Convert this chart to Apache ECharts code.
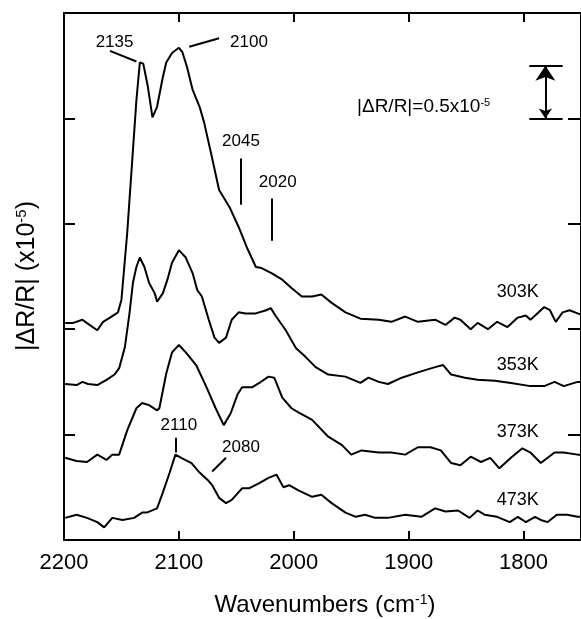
<!DOCTYPE html>
<html>
<head>
<meta charset="utf-8">
<script src="https://cdn.jsdelivr.net/npm/echarts@6/dist/echarts.min.js"></script>
<style>
  html, body { margin: 0; padding: 0; background: #fff; }
  #main { width: 581px; height: 619px; }
</style>
</head>
<body>
<div id="main"></div>
<script>
// traces: [wavenumber (cm-1), offset |dR/R| (x10^-5)]
const k303 = [
  [2199, 2.06], [2192, 2.06], [2184, 2.09], [2179, 2.05], [2171, 1.99], [2166, 2.07],
  [2160, 2.11], [2153, 2.16], [2150, 2.28], [2145, 2.91], [2141, 3.54], [2137, 4.17],
  [2134, 4.53], [2131, 4.52], [2127, 4.30], [2123, 4.01], [2119, 4.11], [2114, 4.39],
  [2111, 4.53], [2106, 4.62], [2100, 4.67], [2097, 4.63], [2093, 4.49], [2088, 4.27],
  [2082, 4.11], [2078, 3.96], [2072, 3.67], [2065, 3.32], [2056, 3.16], [2048, 2.97],
  [2041, 2.78], [2033, 2.59], [2028, 2.58], [2019, 2.53], [2010, 2.47], [2002, 2.39],
  [1993, 2.31], [1984, 2.31], [1976, 2.33], [1967, 2.25], [1955, 2.16], [1942, 2.10],
  [1926, 2.09], [1915, 2.07], [1903, 2.12], [1892, 2.07], [1877, 2.09], [1868, 2.04],
  [1860, 2.11], [1855, 2.09], [1846, 2.00], [1840, 2.06], [1831, 2.00], [1823, 2.07],
  [1814, 2.02], [1805, 2.11], [1798, 2.13], [1794, 2.09], [1788, 2.15], [1782, 2.21],
  [1777, 2.18], [1772, 2.07], [1766, 2.16], [1760, 2.18], [1753, 2.15], [1750, 2.14]
];
const k353 = [
  [2199, 1.48], [2189, 1.47], [2184, 1.50], [2179, 1.48], [2171, 1.47], [2163, 1.52],
  [2156, 1.57], [2152, 1.63], [2147, 1.83], [2143, 2.15], [2140, 2.44], [2137, 2.59],
  [2134, 2.68], [2130, 2.59], [2126, 2.44], [2121, 2.34], [2119, 2.26], [2114, 2.34],
  [2110, 2.47], [2106, 2.63], [2100, 2.75], [2094, 2.68], [2088, 2.53], [2084, 2.37],
  [2080, 2.31], [2074, 2.09], [2069, 1.92], [2065, 1.87], [2059, 1.92], [2054, 2.09],
  [2048, 2.16], [2042, 2.15], [2033, 2.15], [2024, 2.18], [2020, 2.20], [2016, 2.13],
  [2007, 1.99], [1998, 1.82], [1990, 1.74], [1981, 1.64], [1970, 1.57], [1955, 1.55],
  [1942, 1.49], [1935, 1.54], [1926, 1.50], [1918, 1.48], [1906, 1.54], [1892, 1.59],
  [1877, 1.64], [1870, 1.66], [1863, 1.57], [1851, 1.54], [1840, 1.52], [1825, 1.51],
  [1811, 1.49], [1794, 1.46], [1782, 1.46], [1773, 1.50], [1765, 1.46], [1753, 1.50],
  [1750, 1.50]
];
const k373 = [
  [2199, 0.78], [2189, 0.75], [2180, 0.74], [2171, 0.81], [2163, 0.76], [2158, 0.81],
  [2152, 0.81], [2145, 1.04], [2137, 1.25], [2132, 1.30], [2126, 1.28], [2119, 1.23],
  [2117, 1.25], [2111, 1.58], [2106, 1.78], [2100, 1.85], [2094, 1.78], [2085, 1.66],
  [2076, 1.45], [2068, 1.25], [2061, 1.09], [2055, 1.20], [2049, 1.38], [2045, 1.45],
  [2036, 1.45], [2030, 1.49], [2022, 1.55], [2017, 1.54], [2010, 1.35], [2002, 1.25],
  [1996, 1.21], [1984, 1.14], [1970, 0.98], [1958, 0.90], [1950, 0.81], [1941, 0.85],
  [1926, 0.83], [1915, 0.83], [1903, 0.81], [1892, 0.88], [1881, 0.88], [1872, 0.85],
  [1863, 0.73], [1855, 0.71], [1846, 0.79], [1837, 0.74], [1829, 0.78], [1821, 0.68],
  [1811, 0.78], [1801, 0.87], [1794, 0.83], [1785, 0.73], [1773, 0.83], [1765, 0.83],
  [1753, 0.81], [1750, 0.81]
];
const k473 = [
  [2199, 0.21], [2189, 0.24], [2180, 0.21], [2171, 0.17], [2165, 0.12], [2158, 0.21],
  [2149, 0.19], [2139, 0.21], [2132, 0.26], [2128, 0.26], [2119, 0.30], [2114, 0.45],
  [2108, 0.64], [2103, 0.81], [2098, 0.78], [2089, 0.73], [2082, 0.64], [2075, 0.57],
  [2071, 0.52], [2065, 0.40], [2059, 0.35], [2054, 0.38], [2045, 0.49], [2039, 0.49],
  [2030, 0.54], [2022, 0.59], [2015, 0.62], [2009, 0.50], [2004, 0.52], [1996, 0.47],
  [1984, 0.41], [1976, 0.43], [1967, 0.35], [1955, 0.26], [1946, 0.22], [1938, 0.24],
  [1929, 0.21], [1918, 0.21], [1903, 0.24], [1889, 0.22], [1877, 0.30], [1868, 0.27],
  [1857, 0.28], [1847, 0.21], [1840, 0.28], [1834, 0.24], [1823, 0.22], [1812, 0.17],
  [1805, 0.22], [1798, 0.17], [1790, 0.22], [1785, 0.19], [1779, 0.17], [1771, 0.24],
  [1762, 0.24], [1753, 0.22], [1750, 0.22]
];

const xTicks = [2200, 2100, 2000, 1900, 1800];

// text labels placed in data units
const tempLabels = [[1805, 2.35, '303K'], [1805, 1.66, '353K'], [1805, 1.02, '373K'], [1805, 0.38, '473K']];
const peakLabels = [
  [2156, 4.72, '2135'], [2039, 4.72, '2100'], [2046, 3.78, '2045'],
  [2014, 3.39, '2020'], [2100, 1.09, '2110'], [2046, 0.88, '2080']
];
const peakLines = [
  [[2160, 4.64], [2137, 4.54]], [[2091, 4.68], [2065, 4.76]], [[2046, 3.62], [2046, 3.18]],
  [[2019, 3.24], [2019, 2.84]], [[2103, 0.97], [2103, 0.83]], [[2071, 0.65], [2059, 0.78]]
];
// 0.5 x 10^-5 scale bar
const barLines = [[[1795, 4.5], [1766, 4.5]], [[1795, 4.0], [1766, 4.0]]];
const barArrow = [[1781, 4.0], [1781, 4.5]];
const barLabel = [[1887, 4.11, '|ΔR/R|=0.5x10{sup|-5}']];

const font = 'Liberation Sans, Arial, sans-serif';
const black = '#000';

const chart = echarts.init(document.getElementById('main'));

function traceSeries(name, data) {
  return {
    name: name, type: 'line', data: data, showSymbol: false, symbol: 'none',
    lineStyle: { color: black, width: 2 }, z: 3
  };
}

function textSeries(data, size) {
  return {
    type: 'scatter', data: data, symbolSize: 0, silent: true,
    itemStyle: { opacity: 1 },
    label: {
      show: true, position: 'inside', color: black, opacity: 1, fontFamily: font, fontSize: size,
      formatter: p => p.data[2],
      rich: { sup: { fontSize: 11, verticalAlign: 'top', fontFamily: font, color: black, padding: [0, 0, 6, 0] } }
    }
  };
}

const axisCommon = {
  axisLine: { show: true, onZero: false, lineStyle: { color: black, width: 2 } },
  splitLine: { show: false }
};

const option = {
  animation: false,
  backgroundColor: '#fff',
  grid: { left: 64, right: -3, top: 13, bottom: 79 },
  xAxis: [
    Object.assign({
      type: 'value', min: 1750, max: 2200, inverse: true, position: 'bottom',
      axisTick: { show: true, inside: true, length: 9, customValues: xTicks, lineStyle: { color: black, width: 2 } },
      axisLabel: { customValues: xTicks, fontSize: 22, margin: 12, color: black, fontFamily: font, formatter: v => String(v) }
    }, axisCommon),
    Object.assign({
      type: 'value', min: 1750, max: 2200, inverse: true, position: 'top',
      axisTick: { show: true, inside: true, length: 9, customValues: xTicks, lineStyle: { color: black, width: 2 } },
      axisLabel: { show: false }
    }, axisCommon)
  ],
  yAxis: [
    Object.assign({
      type: 'value', min: 0, max: 5, interval: 1, position: 'left',
      axisTick: { show: true, inside: true, length: 11, lineStyle: { color: black, width: 2 } },
      axisLabel: { show: false }
    }, axisCommon),
    Object.assign({
      type: 'value', min: 0, max: 5, interval: 1, position: 'right',
      axisTick: { show: true, inside: true, length: 13, lineStyle: { color: black, width: 2 } },
      axisLabel: { show: false }
    }, axisCommon)
  ],
  series: [
    traceSeries('303K', k303),
    traceSeries('353K', k353),
    traceSeries('373K', k373),
    traceSeries('473K', k473),
    textSeries(tempLabels, 18),
    textSeries(peakLabels, 17),
    textSeries(barLabel, 19),
    {
      type: 'lines', coordinateSystem: 'cartesian2d', silent: true,
      lineStyle: { color: black, width: 2, opacity: 1 },
      data: peakLines.concat(barLines).map(c => ({ coords: c }))
    },
    {
      type: 'lines', coordinateSystem: 'cartesian2d', silent: true,
      symbol: ['arrow', 'arrow'], symbolSize: [10, 15],
      lineStyle: { color: black, width: 2, opacity: 1 },
      data: [{ coords: barArrow }]
    }
  ],
  graphic: [
    {
      type: 'text', x: 325, y: 605,
      style: {
        text: 'Wavenumbers (cm{sup|-1})', fill: black, font: '24px ' + font,
        align: 'center', verticalAlign: 'middle',
        rich: { sup: { fontSize: 14, verticalAlign: 'top', fontFamily: font, fill: black } }
      }
    },
    {
      type: 'text', x: 27, y: 276, rotation: Math.PI / 2,
      style: {
        text: '|ΔR/R| (x10{sup|-5})', fill: black, font: '25px ' + font,
        align: 'center', verticalAlign: 'middle',
        rich: { sup: { fontSize: 15, verticalAlign: 'top', fontFamily: font, fill: black } }
      }
    }
  ]
};

chart.setOption(option);
</script>
</body>
</html>
